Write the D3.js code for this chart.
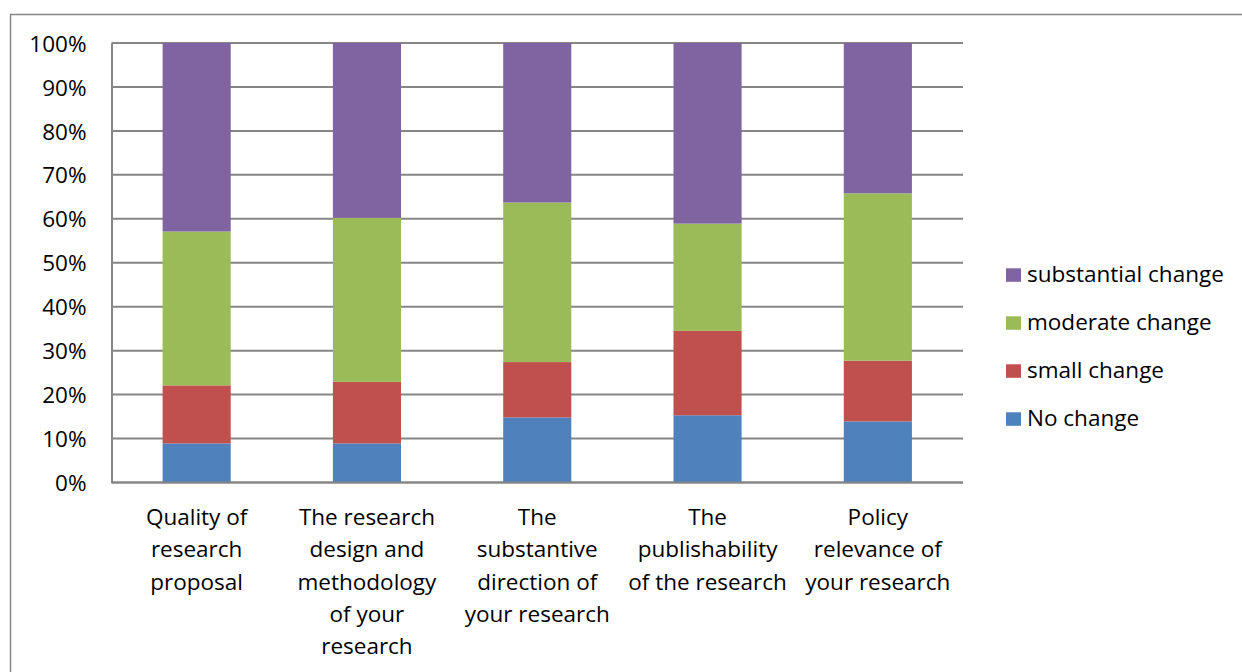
<!DOCTYPE html>
<html><head><meta charset="utf-8">
<script src="https://cdn.jsdelivr.net/npm/d3@7"></script>
<style>body{margin:0;background:#fff;} text{font-family:"Open Sans", sans-serif;}</style>
</head><body>
<svg id="c" width="1242" height="672"></svg>
<script>
const categories = ["Quality of research proposal","The research design and methodology of your research","The substantive direction of your research","The publishability of the research","Policy relevance of your research"];
const categoryLines = [
  ["Quality of","research","proposal"],
  ["The research","design and","methodology","of your","research"],
  ["The","substantive","direction of","your research"],
  ["The","publishability","of the research"],
  ["Policy","relevance of","your research"]
];
const seriesNames = ["No change","small change","moderate change","substantial change"];
const noChange = [8.9, 8.9, 14.8, 15.3, 13.9];
const smallChange = [13.2, 14.0, 12.6, 19.2, 13.8];
const moderateChange = [35.0, 37.3, 36.3, 24.4, 38.1];
const substantialChange = [42.9, 39.8, 36.3, 41.1, 34.2];
const colors = ["#4F81BD","#C0504D","#9BBB59","#8064A2"];
const yTicks = [0,10,20,30,40,50,60,70,80,90,100];

const svg = d3.select("#c");
const grid = "#868686";
const FONT = "'Open Sans', sans-serif";
const FS = 22.5;
svg.append("rect").attr("x",10.5).attr("y",14.5).attr("width",1240).attr("height",670)
  .attr("fill","none").attr("stroke",grid).attr("stroke-width",1.5);

const pL=111.5, pR=963, pT=43, pB=482.5;
const x = d3.scaleBand().domain(categories).range([pL,pR]).paddingInner(0.6).paddingOuter(0.3);
const y = d3.scaleLinear().domain([0,100]).range([pB,pT]);

// gridlines
svg.append("g").selectAll("line").data(yTicks).join("line")
  .attr("x1",pL).attr("x2",pR).attr("y1",d=>y(d)).attr("y2",d=>y(d))
  .attr("stroke",grid).attr("stroke-width",2);

// y axis
const ya = svg.append("g").attr("transform",`translate(${pL},0)`)
  .call(d3.axisLeft(y).tickValues(yTicks).tickFormat(d=>d+"%").tickSize(0).tickPadding(25));
ya.select(".domain").attr("stroke",grid).attr("stroke-width",2);
ya.selectAll("text").attr("font-size",FS).attr("fill","#000").attr("dy","0.36em").style("font-family",FONT);

// stacked data
const rows = categories.map((c,i)=>({cat:c, "No change":noChange[i], "small change":smallChange[i], "moderate change":moderateChange[i], "substantial change":substantialChange[i]}));
const stack = d3.stack().keys(seriesNames)(rows);
svg.append("g").selectAll("g").data(stack).join("g").attr("fill",(d,i)=>colors[i])
  .selectAll("rect").data(d=>d).join("rect")
  .attr("x",d=>x(d.data.cat)).attr("width",x.bandwidth())
  .attr("y",d=>y(d[1])).attr("height",d=>y(d[0])-y(d[1]));

// x axis line
svg.append("line").attr("x1",pL).attr("x2",pR).attr("y1",pB).attr("y2",pB)
  .attr("stroke",grid).attr("stroke-width",2);

// x labels
const xl = svg.append("g");
categories.forEach((c,i)=>{
  const t = xl.append("text").attr("text-anchor","middle").attr("font-size",FS).attr("fill","#000");
  categoryLines[i].forEach((ln,j)=>{
    t.append("tspan").attr("x",x(c)+x.bandwidth()/2).attr("y",525+j*32.3).text(ln);
  });
});

// legend
const legendOrder = [3,2,1,0];
const lg = svg.append("g");
legendOrder.forEach((si,k)=>{
  const base = 282.3 + k*48;
  lg.append("rect").attr("x",1006).attr("y",base-14).attr("width",15).attr("height",13.5).attr("fill",colors[si]);
  lg.append("text").attr("x",1027).attr("y",base).attr("font-size",FS).attr("fill","#000").text(seriesNames[si]);
});
</script>
</body></html>
